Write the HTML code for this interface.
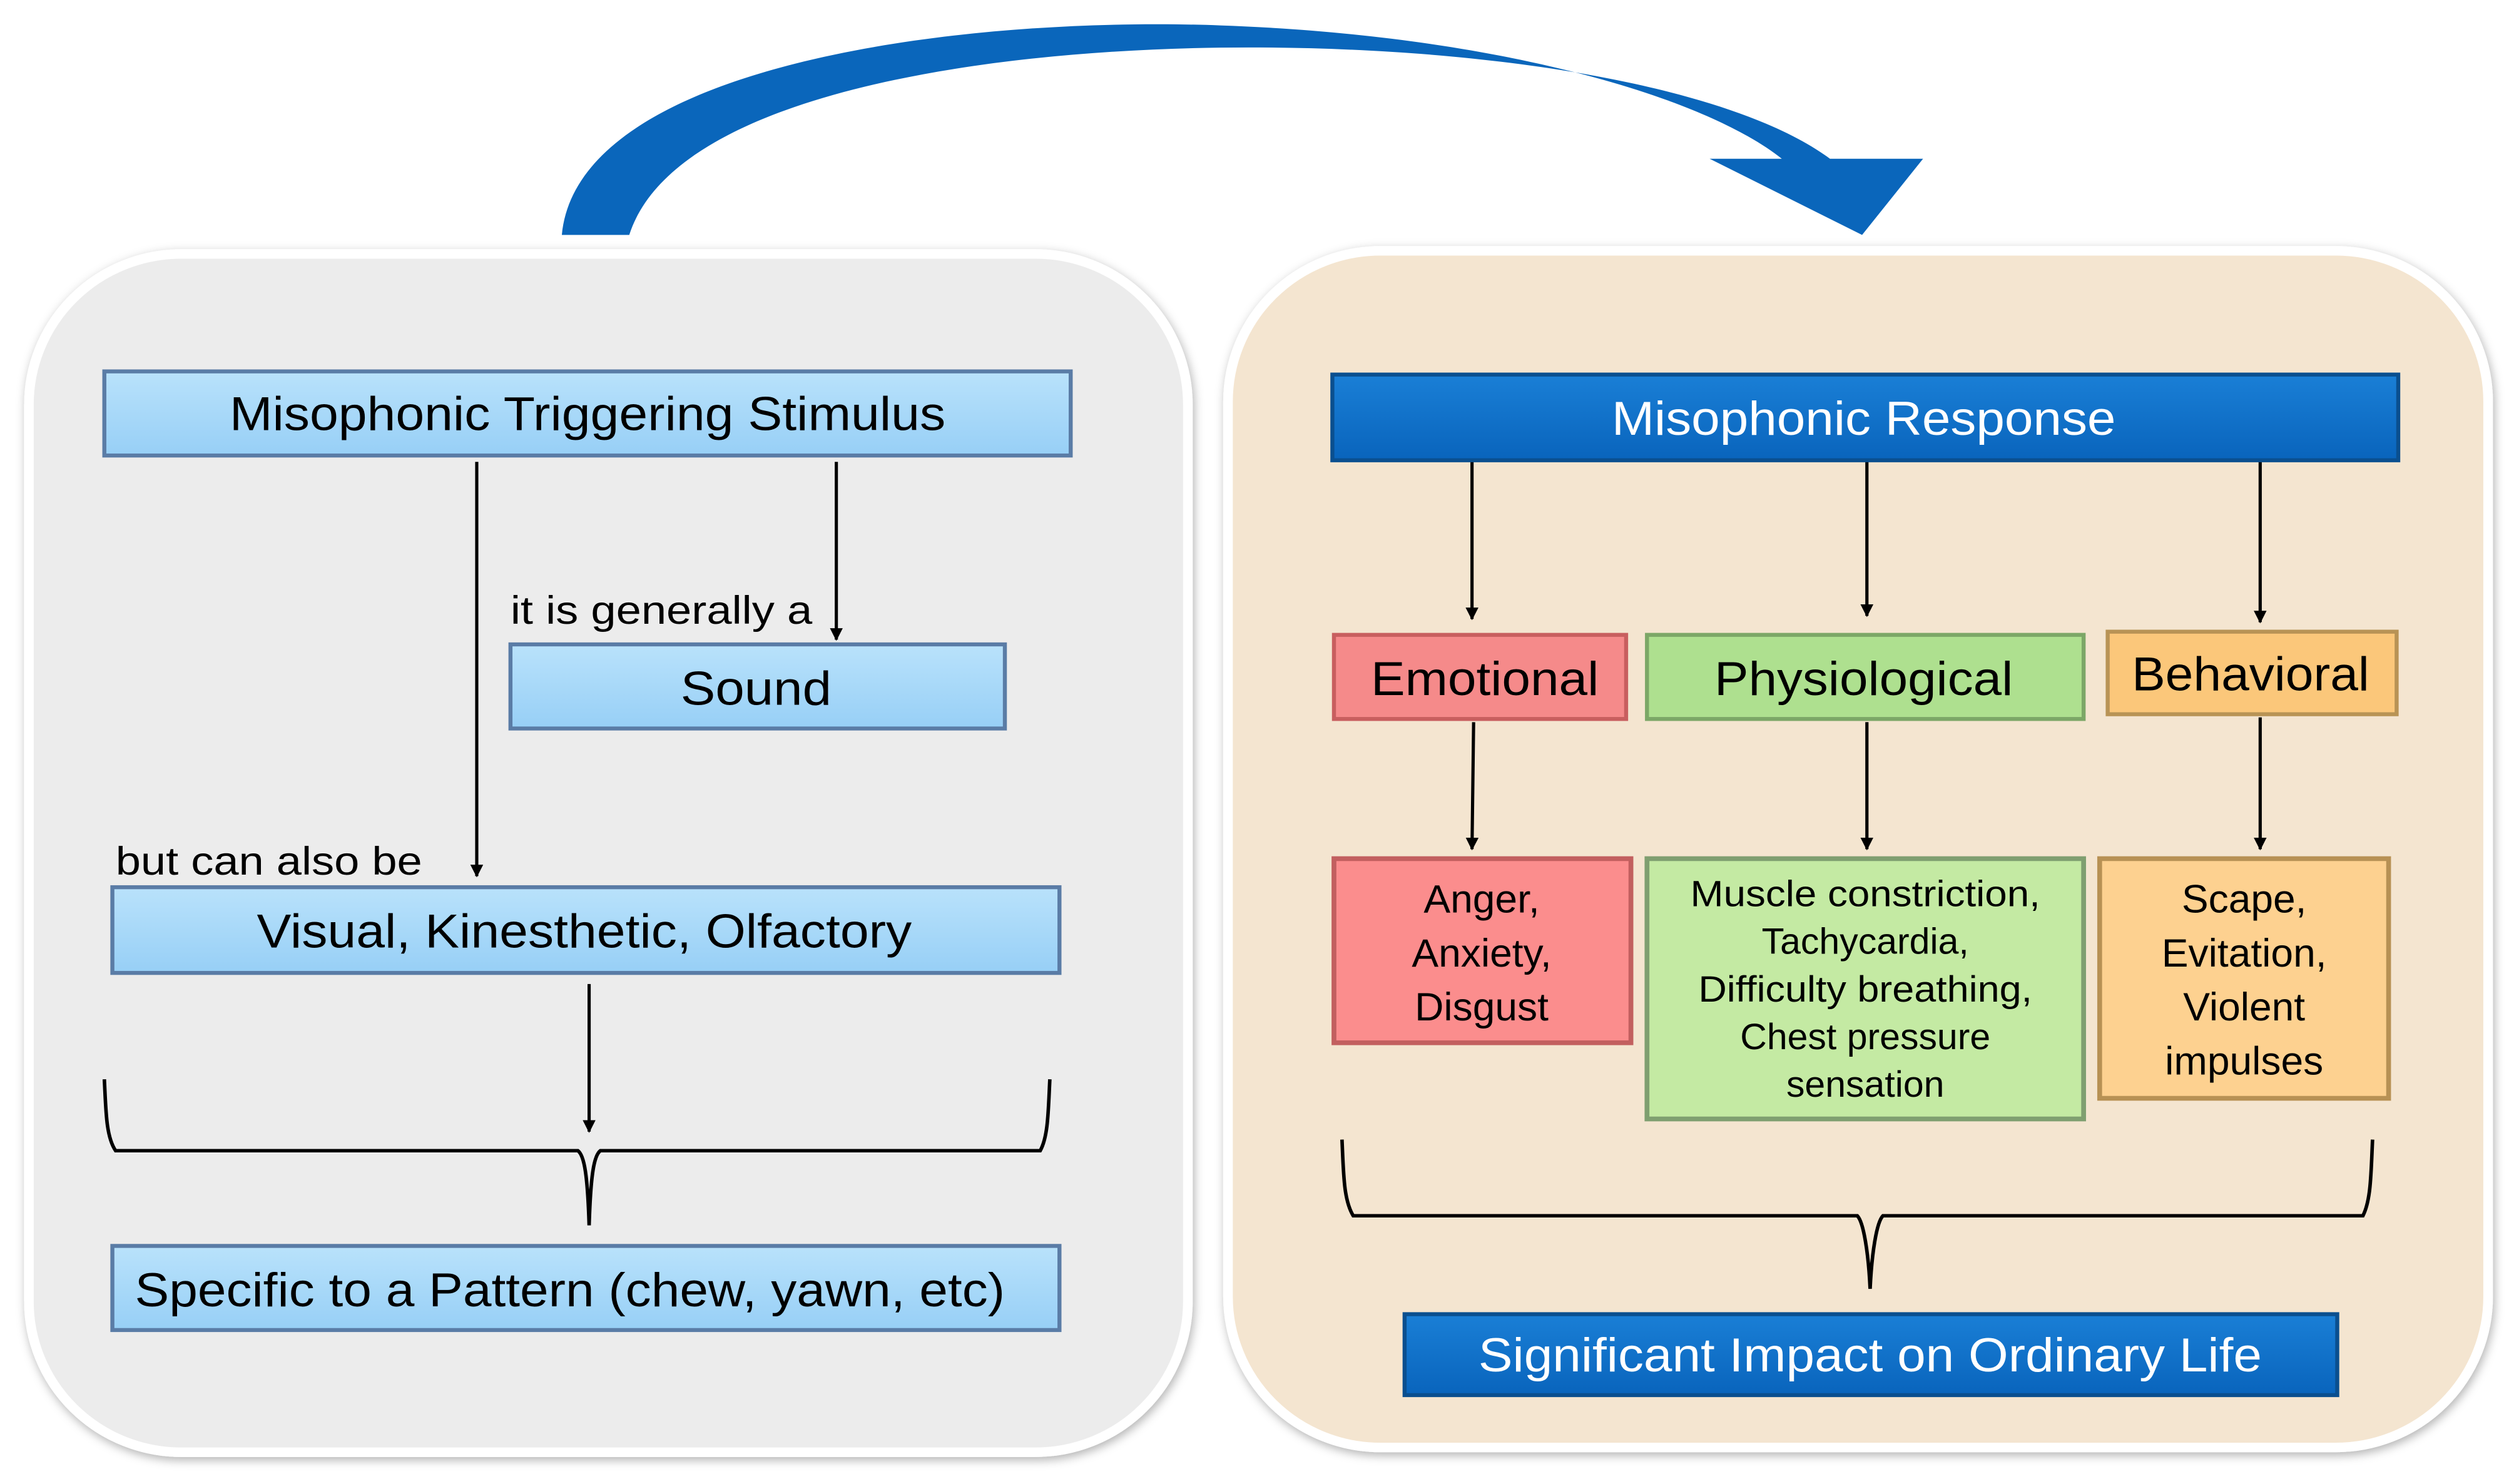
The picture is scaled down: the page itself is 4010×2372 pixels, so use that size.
<!DOCTYPE html>
<html><head><meta charset="utf-8"><style>
html,body{margin:0;padding:0;background:#fff;}
svg{display:block;}
text{font-family:"Liberation Sans",sans-serif;}
</style></head><body>
<svg width="4010" height="2372" viewBox="0 0 1563 935" preserveAspectRatio="none" xmlns="http://www.w3.org/2000/svg">
<defs>
<marker id="ah" viewBox="0 0 10 10" refX="9" refY="5" markerWidth="4" markerHeight="4" orient="auto"><path d="M0,0 L10,5 L0,10 z" fill="#000"/></marker>
<linearGradient id="lb" x1="0" y1="0" x2="0" y2="1"><stop offset="0" stop-color="#b9e2fb"/><stop offset="1" stop-color="#97cff6"/></linearGradient>
<linearGradient id="db" x1="0" y1="0" x2="0" y2="1"><stop offset="0" stop-color="#1a7fd6"/><stop offset="1" stop-color="#0964bc"/></linearGradient>
<filter id="sh" x="-5%" y="-5%" width="110%" height="110%"><feDropShadow dx="1" dy="2" stdDeviation="3" flood-color="#000" flood-opacity="0.3"/></filter>
</defs>
<!-- panels -->
<rect x="18" y="160" width="722" height="755" rx="95" fill="#ececec" stroke="#fff" stroke-width="6" filter="url(#sh)"/>
<rect x="765" y="158" width="785" height="754" rx="95" fill="#f4e5d0" stroke="#fff" stroke-width="6" filter="url(#sh)"/>
<!-- big arrow -->
<path d="M350,148 C360,40 600,10 760,16 C930,22 1060,60 1110,100 L1065,100 L1160,148 L1198,100 L1140,100 C1080,55 930,28 760,30 C610,32 420,60 392,148 Z" fill="#0a66bb"/>
<!-- left boxes -->
<g stroke="#5a7ca6" stroke-width="2.5" fill="url(#lb)">
<rect x="65" y="234" width="602" height="53"/>
<rect x="318" y="406" width="308" height="53"/>
<rect x="70" y="559" width="590" height="54"/>
<rect x="70" y="785" width="590" height="53"/>
</g>
<g font-size="30" fill="#000" text-anchor="middle">
<text x="366" y="271" textLength="446" lengthAdjust="spacingAndGlyphs">Misophonic Triggering Stimulus</text>
<text x="471" y="444" textLength="94" lengthAdjust="spacingAndGlyphs">Sound</text>
<text x="364" y="597" textLength="408" lengthAdjust="spacingAndGlyphs">Visual, Kinesthetic, Olfactory</text>
<text x="355" y="823" textLength="542" lengthAdjust="spacingAndGlyphs">Specific to a Pattern (chew, yawn, etc)</text>
</g>
<text x="318" y="393" font-size="25" textLength="188" lengthAdjust="spacingAndGlyphs">it is generally a</text>
<text x="72" y="551" font-size="25" textLength="191" lengthAdjust="spacingAndGlyphs">but can also be</text>
<g stroke="#000" stroke-width="2" fill="none" marker-end="url(#ah)">
<line x1="297" y1="291" x2="297" y2="552"/>
<line x1="521" y1="291" x2="521" y2="403"/>
<line x1="367" y1="620" x2="367" y2="713"/>
<line x1="917" y1="291" x2="917" y2="390"/>
<line x1="1163" y1="291" x2="1163" y2="388"/>
<line x1="1408" y1="291" x2="1408" y2="392"/>
<line x1="918" y1="455" x2="917" y2="535"/>
<line x1="1163" y1="455" x2="1163" y2="535"/>
<line x1="1408" y1="452" x2="1408" y2="535"/>
</g>
<g stroke="#000" stroke-width="2.2" fill="none">
<path d="M65,680 C66,700 66,716 72,725 L360,725 C364,728 366,740 367,772 C368,740 370,728 374,725 L648,725 C653,716 653,700 654,680"/>
<path d="M836,718 C837,740 837,756 843,766 L1157,766 C1161,770 1164,790 1165,812 C1166,790 1169,770 1173,766 L1472,766 C1477,756 1477,740 1478,718"/>
</g>
<!-- right boxes -->
<rect x="830" y="236" width="664" height="54" fill="url(#db)" stroke="#0a4f8f" stroke-width="2.5"/>
<text x="1161" y="274" font-size="30" fill="#fff" text-anchor="middle" textLength="314" lengthAdjust="spacingAndGlyphs">Misophonic Response</text>
<rect x="831" y="400" width="182" height="53" fill="#f58a8a" stroke="#c85f5f" stroke-width="2.5"/>
<rect x="1026" y="400" width="272" height="53" fill="#aee08f" stroke="#7ca767" stroke-width="2.5"/>
<rect x="1313" y="398" width="180" height="52" fill="#fbc77a" stroke="#b89355" stroke-width="2.5"/>
<g font-size="30" fill="#000" text-anchor="middle">
<text x="925" y="438" textLength="142" lengthAdjust="spacingAndGlyphs">Emotional</text>
<text x="1161" y="438" textLength="186" lengthAdjust="spacingAndGlyphs">Physiological</text>
<text x="1402" y="435" textLength="148" lengthAdjust="spacingAndGlyphs">Behavioral</text>
</g>
<rect x="831" y="541" width="185" height="116" fill="#fb8d8d" stroke="#c25f5f" stroke-width="3"/>
<rect x="1026" y="541" width="272" height="164" fill="#c4eaa3" stroke="#7f9f70" stroke-width="3"/>
<rect x="1308" y="541" width="180" height="151" fill="#fdd190" stroke="#b79154" stroke-width="3"/>
<g font-size="25" fill="#000" text-anchor="middle">
<text x="923" y="575">Anger,</text>
<text x="923" y="609">Anxiety,</text>
<text x="923" y="643">Disgust</text>
<text x="1162" y="571" font-size="23" textLength="218" lengthAdjust="spacingAndGlyphs">Muscle constriction,</text>
<text x="1162" y="601" font-size="23">Tachycardia,</text>
<text x="1162" y="631" font-size="23" textLength="208" lengthAdjust="spacingAndGlyphs">Difficulty breathing,</text>
<text x="1162" y="661" font-size="23">Chest pressure</text>
<text x="1162" y="691" font-size="23">sensation</text>
<text x="1398" y="575">Scape,</text>
<text x="1398" y="609">Evitation,</text>
<text x="1398" y="643">Violent</text>
<text x="1398" y="677">impulses</text>
</g>
<rect x="875" y="828" width="581" height="51" fill="url(#db)" stroke="#0a4f8f" stroke-width="2.5"/>
<text x="1165" y="864" font-size="30" fill="#fff" text-anchor="middle" textLength="488" lengthAdjust="spacingAndGlyphs">Significant Impact on Ordinary Life</text>
</svg>
</body></html>
